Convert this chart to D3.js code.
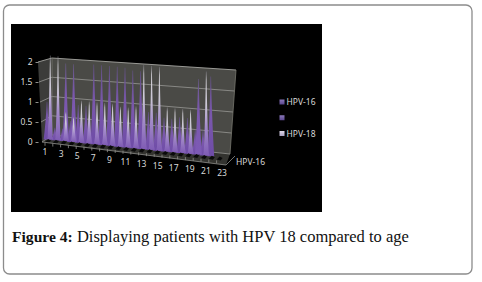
<!DOCTYPE html>
<html>
<head>
<meta charset="utf-8">
<script src="https://d3js.org/d3.v7.min.js"></script>
<style>
  html, body { margin: 0; padding: 0; background: #fff; }
  svg { display: block; }
  text { font-family: "Noto Sans", sans-serif; }
</style>
</head>
<body>
<svg id="chart" width="482" height="282"></svg>
<script>
const categories = d3.range(1, 24)
const tickLabels = [1, 3, 5, 7, 9, 11, 13, 15, 17, 19, 21, 23]
const valueTicks = [0, 0.5, 1, 1.5, 2]
const legendLabels = ['HPV-16', '', 'HPV-18']

// one value per category
const hpv16 = [0.9, 0.3, 0.3, 0.5, 0.9, 0.9, 1.9, 1.9, 1.9, 1.9, 1.9, 1.85, 1.85, 0.9, 0.9, 0.8, 0.8, 0.85, 0.85, 0.6, 0.6, 1.9, 0]
const blank = [0.2, 0.2, 1.85, 1.85, 0.5, 0.5, 0.5, 0.4, 0.4, 0.4, 0.4, 0.4, 0.4, 0.4, 0.4, 0.4, 0.4, 0.4, 0.4, 1.8, 0.3, 0, 0]
const hpv18 = [2, 2, 0.7, 0.6, 1, 1, 1, 1, 1, 0.95, 0.95, 1, 2, 2, 2, 1.05, 1.05, 1.05, 1.05, 0, 2, 0, 0]

const svg = d3.select('#chart')
const defs = svg.append('defs')

function gradient(id, stops) {
  const g = defs.append('linearGradient').attr('id', id)
    .attr('x1', 0).attr('y1', 1).attr('x2', 0).attr('y2', 0)
  stops.forEach(s => g.append('stop').attr('offset', s[0]).attr('stop-color', s[1]))
}
gradient('g16', [[0, '#6e4ca6'], [0.5, '#7a57ad'], [1, '#65528a']])
gradient('gBlank', [[0, '#7d5ab5'], [0.6, '#7a57ad'], [1, '#6a5a8c']])
gradient('g18', [[0, '#7f5cb4'], [0.35, '#a48ccb'], [0.6, '#cbc7d6'], [0.9, '#d2d0d6'], [1, '#77757c']])
gradient('leg16', [[0, '#5a4690'], [1, '#8a78b8']])
gradient('leg18', [[0, '#a8a0c0'], [1, '#ded8e8']])

// card
svg.append('rect').attr('x', 3.5).attr('y', 5).attr('width', 468.5).attr('height', 269)
  .attr('rx', 6).attr('fill', '#fff').attr('stroke', '#8c8c8c').attr('stroke-width', 1.3)
svg.append('rect').attr('x', 11).attr('y', 24).attr('width', 311).attr('height', 188).attr('fill', '#000')

// scales of the tilted box
const y = d3.scaleLinear().domain([0, 2]).range([142, 62])
const backLeftY = d3.scaleLinear().domain([0, 2]).range([135, 58])
const backRightY = d3.scaleLinear().domain([0, 2]).range([154, 70])
const backRightX = d3.scaleLinear().domain([0, 2]).range([230, 236])
const frontX = d3.scaleLinear().domain([0, 2]).range([42, 38])
const x = d3.scaleLinear().domain([1, 23]).range([47, 218.6])
const baseY = d3.scaleLinear().domain([1, 23]).range([142.5, 160])
const height = d3.scaleLinear().domain([0, 2]).range([0, 84])
const labelX = d3.scaleLinear().domain([1, 23]).range([45, 222])
const labelY = d3.scaleLinear().domain([1, 23]).range([153, 174])
const backX = 52

const poly = pts => 'M' + pts.map(p => p.join(',')).join('L') + 'Z'

// walls and floor
svg.append('path').attr('fill', '#3c3c3a')
  .attr('d', poly([[frontX(2), y(2)], [backX, backLeftY(2)], [backX, backLeftY(0)], [frontX(0), y(0)]]))
svg.append('path').attr('fill', '#4a4a46')
  .attr('d', poly([[backX, backLeftY(2)], [backRightX(2), backRightY(2)], [backRightX(0), backRightY(0)], [backX, backLeftY(0)]]))
svg.append('path').attr('fill', '#33332f')
  .attr('d', poly([[frontX(0), y(0)], [backX, backLeftY(0)], [backRightX(0), backRightY(0)], [226, 165]]))

valueTicks.forEach(v => {
  svg.append('path').attr('fill', 'none')
    .attr('stroke', v === 2 ? '#a6a6a2' : '#8f8f8b').attr('stroke-width', 0.9)
    .attr('d', `M${frontX(v)},${y(v)}L${backX},${backLeftY(v)}L${backRightX(v)},${backRightY(v)}`)
})
svg.append('path').attr('stroke', '#77776f').attr('stroke-width', 0.8).attr('fill', 'none')
  .attr('d', `M${backX},${backLeftY(2)}V${backLeftY(0)}M${backRightX(2)},${backRightY(2)}L${backRightX(0)},${backRightY(0)}`)

function spike(cx, by, h, w) {
  const p = d3.path()
  p.moveTo(cx - w, by)
  p.quadraticCurveTo(cx - w * 0.4, by - h * 0.4, cx - 0.25, by - h)
  p.lineTo(cx + 0.25, by - h)
  p.quadraticCurveTo(cx + w * 0.4, by - h * 0.4, cx + w, by)
  p.closePath()
  return p.toString()
}

function drawSeries(values, dx, fill, w) {
  svg.append('g').selectAll('path').data(values.map((v, i) => [categories[i], v]).filter(d => d[1] > 0)).join('path')
    .attr('fill', fill)
    .attr('d', d => spike(x(d[0]) + dx, baseY(d[0]) - 3, height(d[1]), w))
}
drawSeries(hpv16, 0, 'url(#g16)', 3.4)
drawSeries(blank, 3.2, 'url(#gBlank)', 3.4)
drawSeries(hpv18, 3.2, 'url(#g18)', 2.6)

// dark footprints in front of the spikes
svg.append('g').selectAll('path').data(categories).join('path')
  .attr('fill', '#0a0a0a')
  .attr('d', c => poly([[x(c) - 2, baseY(c) - 0.5], [x(c) + 1, baseY(c) - 3.5], [x(c) + 4, baseY(c) - 2], [x(c) + 2, baseY(c) + 0.5]]))

// front edge with ticks
svg.append('path').attr('fill', 'none').attr('stroke', '#8f8f8b').attr('stroke-width', 0.8)
  .attr('d', `M${frontX(0)},${y(0)}L226,165L235,156`)
svg.append('g').selectAll('path').data(categories).join('path')
  .attr('stroke', '#8f8f8b').attr('stroke-width', 0.8)
  .attr('d', c => `M${x(c) - 2},${baseY(c) + 0.3}v3`)

// value axis
const yAxis = svg.append('g').attr('transform', 'translate(38.5,0)')
  .call(d3.axisLeft(y).tickValues(valueTicks).tickSize(3).tickFormat(d3.format('')))
yAxis.select('.domain').remove()
yAxis.selectAll('line').attr('stroke', '#8f8f8b')
yAxis.selectAll('text').attr('fill', '#d8d8d8').style('font-size', '8.5px').attr('x', -6)

// category labels
svg.append('g').selectAll('text').data(tickLabels).join('text')
  .attr('x', labelX).attr('y', labelY)
  .attr('text-anchor', 'middle').attr('dominant-baseline', 'middle')
  .attr('fill', '#d8d8d8').style('font-size', '8.5px')
  .text(d => d)

svg.append('text').attr('x', 236).attr('y', 165).attr('fill', '#d8d8d8')
  .style('font-size', '8.5px').text('HPV-16')

// legend
const legendY = d3.scalePoint().domain(legendLabels.map((d, i) => i)).range([102, 133.5])
const legendFill = ['url(#leg16)', 'url(#leg16)', 'url(#leg18)']
legendLabels.forEach((d, i) => {
  svg.append('rect').attr('x', 279.5).attr('y', legendY(i) - 2.5).attr('width', 5).attr('height', 5)
    .attr('fill', legendFill[i])
  svg.append('text').attr('x', 286.5).attr('y', legendY(i) + 3).attr('fill', '#d8d8d8')
    .style('font-size', '8.5px').text(d)
})

// caption
const cap = svg.append('text').attr('x', 12).attr('y', 242).attr('fill', '#111')
  .style('font-family', '"Liberation Serif", serif').style('font-size', '16.5px')
cap.append('tspan').style('font-weight', 'bold').style('font-size', '15.6px').text('Figure 4:')
cap.append('tspan').text(' Displaying patients with HPV 18 compared to age')
</script>
</body>
</html>
